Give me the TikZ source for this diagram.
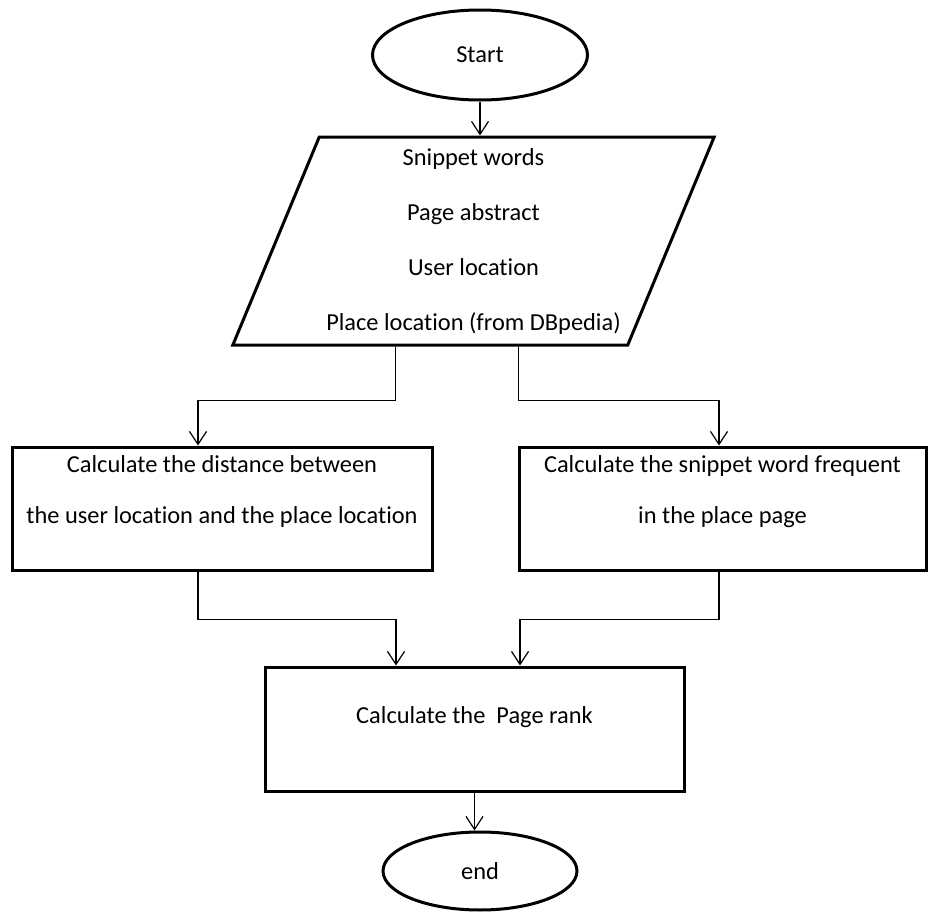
\documentclass[tikz,border=0pt]{standalone}
\usepackage{fontspec}
\setmainfont{Carlito}[Ligatures={NoCommon}]
\usetikzlibrary{shapes.geometric,arrows.meta}

\begin{document}
\begin{tikzpicture}[
                        x = 0.5pt,
                        y = -0.5pt,
                        > = {Straight Barb[length=6.5pt,width=8.5pt]},
            terminal/.style = {ellipse, draw=black, line width=1.5pt,
                            inner sep=0pt,
                            font=\fontsize{12.2}{14}\selectfont},
                  io/.style = {trapezium,
                            trapezium left angle=66.6,
                            trapezium right angle=113.4,
                            trapezium stretches=true,
                            draw=black,
                            line width=1.5pt,
                            minimum width=241.5pt,
                            minimum height=104pt,
                            align=center,
                            font=\fontsize{12.2}{27.5}\selectfont},
             process/.style = {rectangle, draw=black, line width=1.5pt,
                            inner sep=0pt,
                            align=center,
                            font=\fontsize{12.2}{25.5}\selectfont},
                flow/.style = {->, line width=0.6pt},
            ]

            \useasboundingbox (0,0) rectangle (928,921);

            % terminals and data
            \node[terminal, minimum width=107.5pt, minimum height=45pt] (start) at (480,55) {Start};
            \node[io] (input) at (473.5,241)
                {Snippet words\\Page abstract\\User location\\Place location (from DBpedia)};

            % processes
            \node[process, minimum width=210pt, text height=38pt, text depth=23.5pt] (dist) at (222,508.5)
                {Calculate the distance between\\the user location and the place location};
            \node[process, minimum width=203.5pt, text height=38pt, text depth=23.5pt] (freq) at (722.5,508.5)
                {Calculate the snippet word frequent\\in the place page};
            \node[process, minimum width=209.5pt, text height=28pt, text depth=34pt] (rank) at (474.5,729)
                {Calculate the\ \ Page rank};
            \node[terminal, minimum width=97pt, minimum height=39pt] (finish) at (480,871) {end};

            % connectors
            \draw[flow] (start.south) -- (start.south |- input.north);
            \draw[flow] ([xshift=82.5pt]input.bottom left corner) -- ++(0,54) -| ([xshift=-12pt]dist.north);
            \draw[flow] ([xshift=144pt]input.bottom left corner) -- ++(0,54) -| ([xshift=-1.75pt]freq.north);
            \draw[flow] ([xshift=-12pt]dist.south) -- ++(0,48) -| ([xshift=-39.25pt]rank.north);
            \draw[flow] ([xshift=-1.75pt]freq.south) -- ++(0,48) -| ([xshift=22.75pt]rank.north);
            \draw[flow] (rank.south) -- (rank.south |- finish.north);
        \end{tikzpicture}
\end{document}
